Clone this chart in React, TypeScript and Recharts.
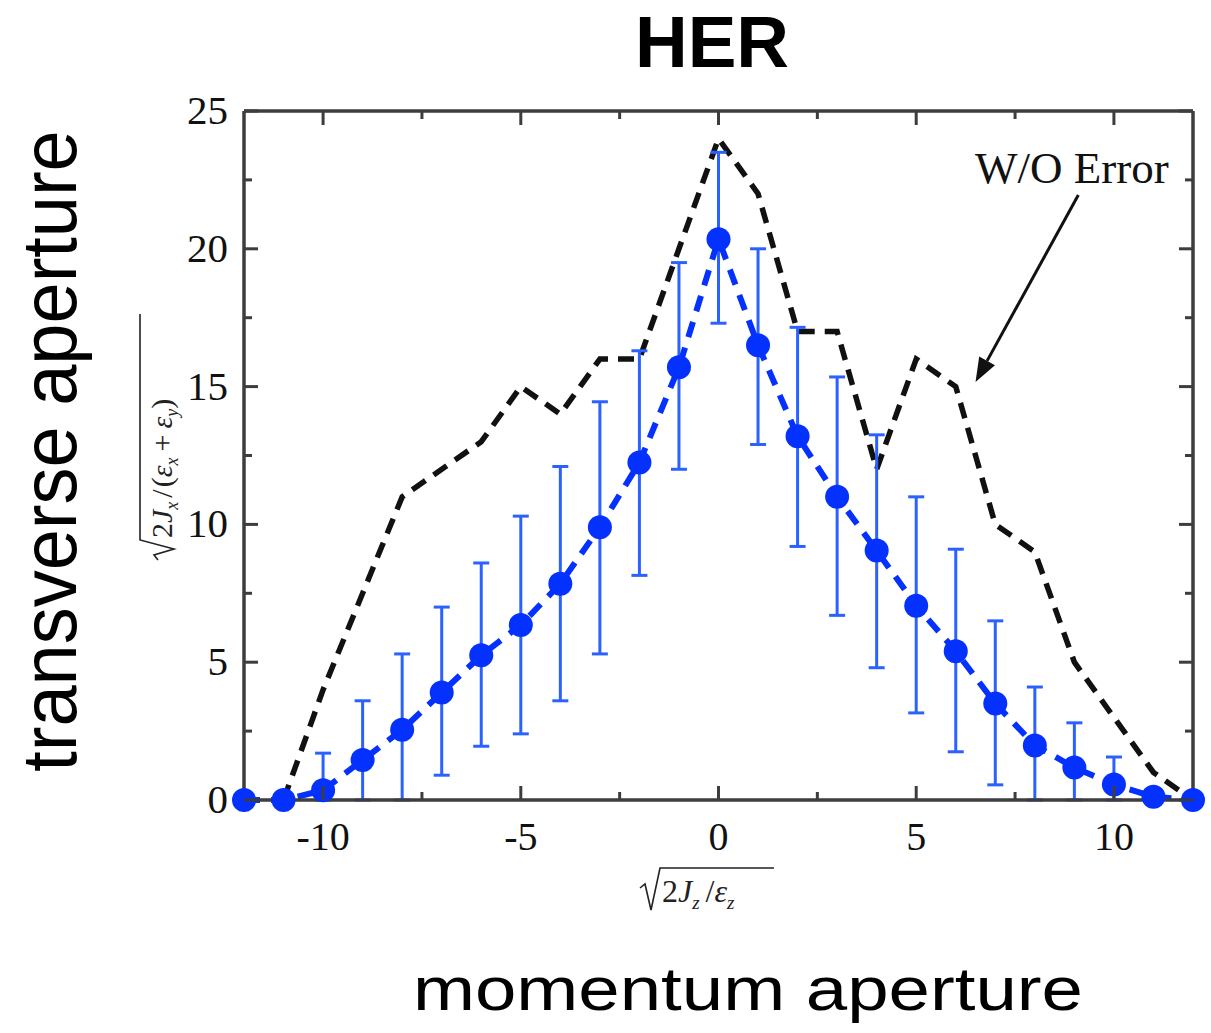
import React from 'react';
import { LineChart, Line, XAxis, YAxis, ErrorBar, ReferenceLine } from 'recharts';

// momentum aperture sqrt(2Jz/ez), one point per unit
const xs = [-12, -11, -10, -9, -8, -7, -6, -5, -4, -3, -2, -1, 0, 1, 2, 3, 4, 5, 6, 7, 8, 9, 10, 11, 12];
// with machine errors: mean and spread of the transverse aperture
const herMean = [0, 0, 0.35, 1.45, 2.55, 3.9, 5.25, 6.35, 7.85, 9.9, 12.25, 15.7, 20.35, 16.5, 13.2, 11.0, 9.05, 7.05, 5.4, 3.5, 1.98, 1.18, 0.56, 0.12, 0];
const herUpper = [0, 0, 1.7, 3.6, 5.3, 7.0, 8.6, 10.3, 12.1, 14.45, 16.3, 19.5, 23.5, 20.0, 17.15, 15.35, 13.25, 11.0, 9.1, 6.5, 4.1, 2.8, 1.56, 0.12, 0];
const herLower = [0, 0, 0, 0, 0, 0.9, 1.95, 2.4, 3.6, 5.3, 8.15, 12.0, 17.3, 12.9, 9.2, 6.7, 4.8, 3.16, 1.75, 0.55, 0, 0, 0, 0.12, 0];
// without errors (black dashed)
const noErr = [null, 0, 4, 7.5, 11, 12, 13, 15, 14, 16, 16, 20, 24, 22, 17, 17, 12, 16, 15, 10, 9, 5, 3, 1, 0];

const xTicks = [-10, -7.5, -5, -2.5, 0, 2.5, 5, 7.5, 10];
const yTicks = [0, 2.5, 5, 7.5, 10, 12.5, 15, 17.5, 20, 22.5, 25];

// annotation arrow, in data units
const arrowFrom = { x: 9.1, y: 21.95 };
const arrowTo = { x: 6.5, y: 15.17 };

const data = xs.map((x, i) => ({
    x,
    her: herMean[i],
    herErr: [herMean[i] - herLower[i], herUpper[i] - herMean[i]],
    noErr: noErr[i],
}));

const SERIF = '"Liberation Serif", "Times New Roman", serif';
const SANS = '"Liberation Sans", Arial, Helvetica, sans-serif';
const AXIS = '#3d3d3d';
const BLUE = '#0531ff';
const BAR = '#2b62ff';

const isMajor = (v: number) => v % 5 === 0;

const BottomTick = (p: any) => {
    const v = p.payload.value;
    return (
        <g>
            <line x1={p.x} x2={p.x} y1={p.y} y2={p.y - (isMajor(v) ? 14 : 8)} stroke={AXIS} strokeWidth={3} />
            {isMajor(v) && (
                <text x={p.x} y={p.y + 50} textAnchor="middle" fontFamily={SERIF} fontSize={40} fill="#111">{v}</text>
            )}
        </g>
    );
};

const TopTick = (p: any) => {
    const v = p.payload.value;
    return <line x1={p.x} x2={p.x} y1={p.y} y2={p.y + (isMajor(v) ? 14 : 8)} stroke={AXIS} strokeWidth={3} />;
};

const LeftTick = (p: any) => {
    const v = p.payload.value;
    return (
        <g>
            <line x1={p.x} x2={p.x + (isMajor(v) ? 14 : 8)} y1={p.y} y2={p.y} stroke={AXIS} strokeWidth={3} />
            {isMajor(v) && (
                <text x={p.x - 16} y={p.y + 13} textAnchor="end" fontFamily={SERIF} fontSize={41} fill="#111">{v}</text>
            )}
        </g>
    );
};

const RightTick = (p: any) => {
    const v = p.payload.value;
    return <line x1={p.x} x2={p.x - (isMajor(v) ? 14 : 8)} y1={p.y} y2={p.y} stroke={AXIS} strokeWidth={3} />;
};

const Arrow = (p: any) => {
    const { x1, y1, x2, y2 } = p;
    const ang = Math.atan2(y2 - y1, x2 - x1);
    const len = 24, half = 9;
    const bx = x2 - len * Math.cos(ang), by = y2 - len * Math.sin(ang);
    const nx = -Math.sin(ang) * half, ny = Math.cos(ang) * half;
    return (
        <g>
            <line x1={x1} y1={y1} x2={bx} y2={by} stroke="#111" strokeWidth={3} />
            <polygon points={`${x2},${y2} ${bx + nx},${by + ny} ${bx - nx},${by - ny}`} fill="#111" />
        </g>
    );
};

export default function App() {
    return (
        <div style={{ position: 'absolute', left: 0, top: 0, width: 1211, height: 1033, background: '#fff' }}>
            <LineChart width={1211} height={1033} data={data} margin={{ top: 109, right: 16, bottom: 183, left: 194 }}>
                <XAxis xAxisId="b" dataKey="x" type="number" domain={[-12, 12]} ticks={xTicks} interval={0}
                    height={50} tickSize={0} tickMargin={0} tickLine={false} tick={<BottomTick />}
                    axisLine={{ stroke: AXIS, strokeWidth: 3.5 }} />
                <XAxis xAxisId="t" orientation="top" dataKey="x" type="number" domain={[-12, 12]} ticks={xTicks} interval={0}
                    height={2} tickSize={0} tickMargin={0} tickLine={false} tick={<TopTick />}
                    axisLine={{ stroke: AXIS, strokeWidth: 3.5 }} />
                <YAxis yAxisId="l" type="number" domain={[0, 25]} ticks={yTicks} interval={0}
                    width={50} tickSize={0} tickMargin={0} tickLine={false} tick={<LeftTick />}
                    axisLine={{ stroke: AXIS, strokeWidth: 3.5 }} />
                <YAxis yAxisId="r" orientation="right" type="number" domain={[0, 25]} ticks={yTicks} interval={0}
                    width={2} tickSize={0} tickMargin={0} tickLine={false} tick={<RightTick />}
                    axisLine={{ stroke: AXIS, strokeWidth: 3.5 }} />

                {/* keeps top/right frame axes bound to the data */}
                <Line xAxisId="t" yAxisId="r" dataKey="noErr" stroke="none" dot={false} activeDot={false}
                    legendType="none" isAnimationActive={false} />

                <Line xAxisId="b" yAxisId="l" dataKey="noErr" stroke="#111" strokeWidth={5.5} strokeDasharray="16 10"
                    dot={false} activeDot={false} isAnimationActive={false} />

                <ReferenceLine xAxisId="b" yAxisId="l" segment={[arrowFrom, arrowTo]} shape={<Arrow />} />

                <Line xAxisId="b" yAxisId="l" dataKey="her" stroke={BLUE} strokeWidth={6} strokeDasharray="16 11"
                    dot={{ r: 12, fill: BLUE, stroke: 'none', strokeDasharray: 'none' }} activeDot={false}
                    isAnimationActive={false}>
                    <ErrorBar dataKey="herErr" direction="y" width={8} stroke={BAR} strokeWidth={3} />
                </Line>
            </LineChart>

            <svg width={1211} height={1033} style={{ position: 'absolute', left: 0, top: 0, pointerEvents: 'none' }}>
                <text x={712} y={67} textAnchor="middle" fontFamily={SANS} fontWeight="bold" fontSize={73} fill="#000">HER</text>

                <text transform="translate(748,1010) scale(1.22,1)" textAnchor="middle" fontFamily={SANS} fontSize={61} fill="#000">
                    momentum aperture
                </text>

                <text transform="translate(76,451) rotate(-90) scale(1,1.05)" textAnchor="middle" fontFamily={SANS} fontSize={74} fill="#000">
                    transverse aperture
                </text>

                <text x={975} y={183} fontFamily={SERIF} fontSize={45} fill="#111">W/O Error</text>

                {/* y axis quantity: sqrt(2Jx/(ex+ey)) */}
                <g transform="translate(172,560) rotate(-90)">
                    <path d="M0,-14 L5,-18 L11,2 L20,-32 L246,-32" fill="none" stroke="#222" strokeWidth={1.6} />
                    <text x={22} y={0} fontFamily={SERIF} fontSize={30} fill="#222">
                        <tspan>2</tspan><tspan fontStyle="italic">J</tspan>
                        <tspan fontStyle="italic" fontSize={18} dy={6}>x</tspan>
                        <tspan dy={-6} dx={4}>/</tspan>
                        <tspan dx={2}>(</tspan><tspan fontStyle="italic">ε</tspan>
                        <tspan fontStyle="italic" fontSize={18} dy={6}>x</tspan>
                        <tspan dy={-6} dx={6}>+</tspan>
                        <tspan dx={6} fontStyle="italic">ε</tspan>
                        <tspan fontStyle="italic" fontSize={18} dy={6}>y</tspan>
                        <tspan dy={-6}>)</tspan>
                    </text>
                </g>

                {/* x axis quantity: sqrt(2Jz/ez) */}
                <g transform="translate(640,902)">
                    <path d="M0,-14 L5,-18 L11,8 L20,-34 L134,-34" fill="none" stroke="#222" strokeWidth={1.6} />
                    <text x={22} y={0} fontFamily={SERIF} fontSize={32} fill="#222">
                        <tspan>2</tspan><tspan fontStyle="italic">J</tspan>
                        <tspan fontStyle="italic" fontSize={19} dy={7}>z</tspan>
                        <tspan dy={-7} dx={6}>/</tspan>
                        <tspan fontStyle="italic">ε</tspan>
                        <tspan fontStyle="italic" fontSize={19} dy={7}>z</tspan>
                    </text>
                </g>
            </svg>
        </div>
    );
}
